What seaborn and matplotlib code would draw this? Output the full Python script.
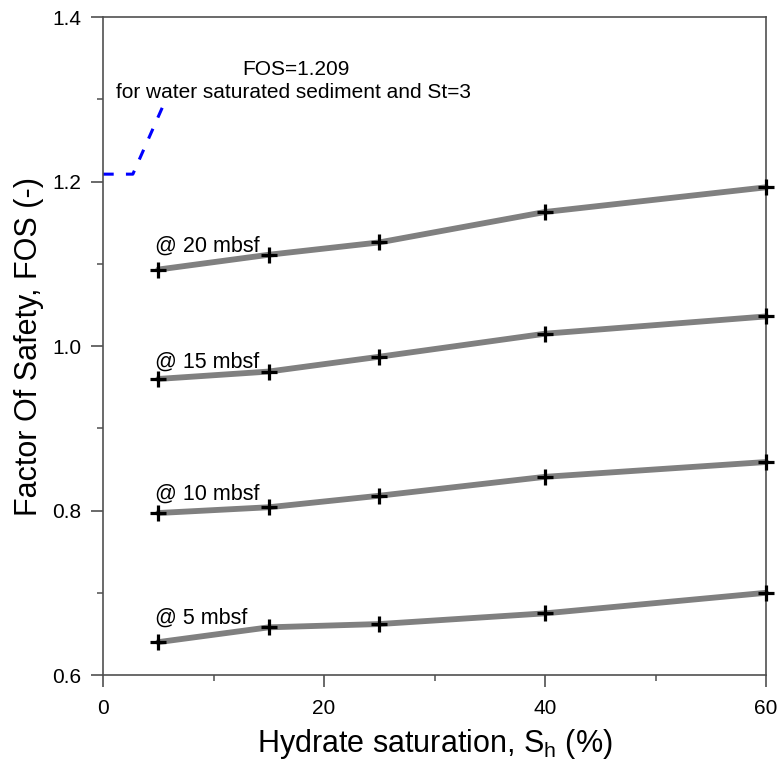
import matplotlib
matplotlib.use("Agg")
import matplotlib.pyplot as plt
import seaborn as sns
import pandas as pd
from matplotlib.ticker import MultipleLocator, FormatStrFormatter

sns.set_style("ticks")
plt.rcParams['font.family'] = ['Liberation Sans', 'DejaVu Sans']
plt.rcParams['mathtext.fontset'] = 'custom'
plt.rcParams['mathtext.rm'] = 'Liberation Sans'
plt.rcParams['text.color'] = 'black'
plt.rcParams['axes.labelcolor'] = 'black'
plt.rcParams['xtick.labelcolor'] = 'black'
plt.rcParams['ytick.labelcolor'] = 'black'

sh = [5, 15, 25, 40, 60]
depths = ["@ 20 mbsf", "@ 15 mbsf", "@ 10 mbsf", "@ 5 mbsf"]
fos_20 = [1.093, 1.111, 1.126, 1.163, 1.193]
fos_15 = [0.960, 0.969, 0.987, 1.015, 1.036]
fos_10 = [0.797, 0.804, 0.818, 0.841, 0.859]
fos_5 = [0.640, 0.658, 0.662, 0.675, 0.700]
label_y = [1.115, 0.974, 0.813, 0.663]

ref_x = [0, 2.7, 5.4]
ref_y = [1.209, 1.209, 1.291]

rows = []
for d, vals in zip(depths, [fos_20, fos_15, fos_10, fos_5]):
    for x, v in zip(sh, vals):
        rows.append({"Sh": x, "FOS": v, "depth": d})
df = pd.DataFrame(rows)

fig = plt.figure(figsize=(7.78, 7.65), dpi=100)
ax = fig.add_axes([0.1324, 0.1176, 0.8522, 0.8601])

sns.lineplot(data=df, x="Sh", y="FOS", hue="depth",
             palette=["#808080"] * 4, linewidth=4.2, marker="+",
             markersize=11, markeredgewidth=2.3, markeredgecolor="black",
             legend=False, ax=ax, clip_on=False, zorder=3)

sns.lineplot(x=ref_x, y=ref_y, color="#0000ff", linestyle=(0, (3.5, 4)),
             linewidth=2.2, ax=ax, legend=False, clip_on=False, zorder=2)

for d, ly in zip(depths, label_y):
    ax.text(4.75, ly, d, fontsize=15.5, ha="left", va="baseline", zorder=4)

ax.text(17.47, 1.330, "FOS=1.209", fontsize=15, ha="center", va="baseline")
ax.text(1.2, 1.302, "for water saturated sediment and St=3", fontsize=15,
        ha="left", va="baseline")

ax.set_xlim(0, 60)
ax.set_ylim(0.6, 1.4)
ax.xaxis.set_major_locator(MultipleLocator(20))
ax.xaxis.set_minor_locator(MultipleLocator(10))
ax.yaxis.set_major_locator(MultipleLocator(0.2))
ax.yaxis.set_minor_locator(MultipleLocator(0.1))
ax.yaxis.set_major_formatter(FormatStrFormatter('%.1f'))

for s in ax.spines.values():
    s.set_color("#505050")
    s.set_linewidth(1.2)
    s.set_visible(True)
ax.tick_params(which="major", direction="out", length=8.6, width=1.2,
               color="#505050", labelsize=15)
ax.tick_params(which="minor", direction="out", length=4.5, width=1.1,
               color="#505050")
ax.tick_params(axis="x", which="major", pad=9)
ax.tick_params(axis="y", which="major", pad=7)

ax.set_xlabel(r"Hydrate saturation, S$_\mathrm{h}$ (%)", fontsize=22, labelpad=6)
ax.set_ylabel("Factor Of Safety, FOS (-)", fontsize=22, labelpad=6)

fig.savefig("out.png", dpi=100)
